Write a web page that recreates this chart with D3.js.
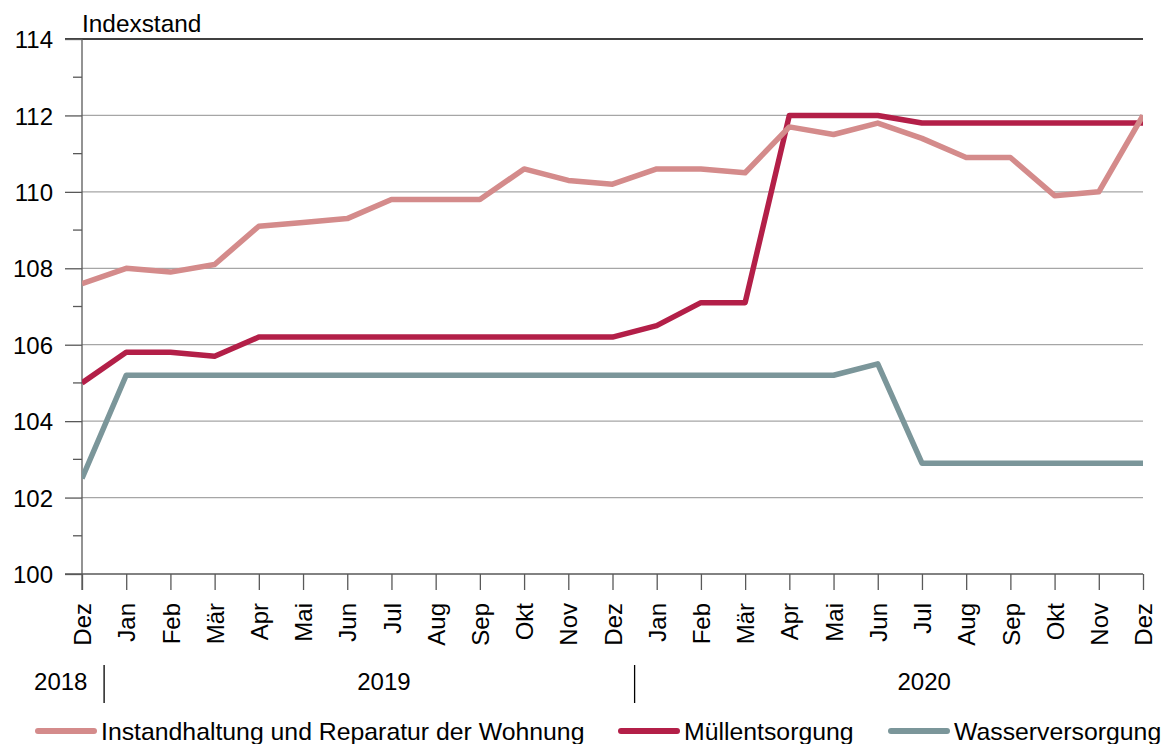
<!DOCTYPE html>
<html>
<head>
<meta charset="utf-8">
<script src="https://cdn.jsdelivr.net/npm/d3@7"></script>
<style>
  body { margin: 0; background: #fff; }
  text { font-family: "Liberation Sans", Arial, sans-serif; fill: #000; }
</style>
</head>
<body>
<div id="chart"></div>
<script>
// month labels, Dez 2018 .. Dez 2020
var months = ["Dez", "Jan", "Feb", "Mär", "Apr", "Mai", "Jun", "Jul", "Aug", "Sep", "Okt", "Nov",
              "Dez", "Jan", "Feb", "Mär", "Apr", "Mai", "Jun", "Jul", "Aug", "Sep", "Okt", "Nov", "Dez"];
var years = ["2018", "2019", "2020"];
var yTicks = [100, 102, 104, 106, 108, 110, 112, 114];
var yMinor = [101, 103, 105, 107, 109, 111, 113];

var seriesNames = ["Instandhaltung und Reparatur der Wohnung", "Müllentsorgung", "Wasserversorgung"];
var instandhaltung = [107.6, 108.0, 107.9, 108.1, 109.1, 109.2, 109.3, 109.8, 109.8, 109.8, 110.6, 110.3,
                      110.2, 110.6, 110.6, 110.5, 111.7, 111.5, 111.8, 111.4, 110.9, 110.9, 109.9, 110.0, 112.0];
var muell = [105.0, 105.8, 105.8, 105.7, 106.2, 106.2, 106.2, 106.2, 106.2, 106.2, 106.2, 106.2,
             106.2, 106.5, 107.1, 107.1, 112.0, 112.0, 112.0, 111.8, 111.8, 111.8, 111.8, 111.8, 111.8];
var wasser = [102.5, 105.2, 105.2, 105.2, 105.2, 105.2, 105.2, 105.2, 105.2, 105.2, 105.2, 105.2,
              105.2, 105.2, 105.2, 105.2, 105.2, 105.2, 105.5, 102.9, 102.9, 102.9, 102.9, 102.9, 102.9];

var colors = ["#d48b8b", "#b31f48", "#7b969a"];

var W = 1167, H = 744;
var m = {left: 82, right: 1143, top: 39, bottom: 574};

var svg = d3.select("#chart").append("svg")
    .attr("width", W)
    .attr("height", H);

var x = d3.scaleLinear().domain([0, months.length - 1]).range([m.left, m.right]);
var y = d3.scaleLinear().domain([100, 114]).range([m.bottom, m.top]);

// gridlines
svg.append("g").selectAll("line")
    .data(yTicks.filter(function(d) { return d > 100 && d < 114; }))
    .enter().append("line")
    .attr("x1", m.left).attr("x2", m.right)
    .attr("y1", function(d) { return y(d); })
    .attr("y2", function(d) { return y(d); })
    .attr("stroke", "#a6a6a6")
    .attr("stroke-width", 1.3);

// top line
svg.append("line")
    .attr("x1", m.left - 17).attr("x2", m.right)
    .attr("y1", y(114)).attr("y2", y(114))
    .attr("stroke", "#000").attr("stroke-width", 1.3);

// y axis
var yAxis = d3.axisLeft(y).tickValues(yTicks).tickSize(17).tickPadding(12).tickFormat(d3.format("d"));
var gy = svg.append("g").attr("transform", "translate(" + m.left + ",0)").call(yAxis);
gy.select(".domain").remove();
gy.selectAll(".tick line").attr("stroke", "#595959").attr("stroke-width", 1.3);
gy.selectAll(".tick text").style("font-size", "24px").attr("dy", "0.36em");
svg.append("g").selectAll("line")
    .data(yMinor)
    .enter().append("line")
    .attr("x1", m.left - 9).attr("x2", m.left)
    .attr("y1", function(d) { return y(d); })
    .attr("y2", function(d) { return y(d); })
    .attr("stroke", "#595959").attr("stroke-width", 1.3);
svg.append("line")
    .attr("x1", m.left).attr("x2", m.left)
    .attr("y1", m.top).attr("y2", m.bottom + 16)
    .attr("stroke", "#595959").attr("stroke-width", 1.3);

// x axis
var xAxis = d3.axisBottom(x).tickValues(d3.range(months.length)).tickSize(16)
    .tickFormat(function(i) { return months[i]; });
var gx = svg.append("g").attr("transform", "translate(0," + m.bottom + ")").call(xAxis);
gx.select(".domain").remove();
gx.selectAll(".tick line").attr("stroke", "#595959").attr("stroke-width", 1.3);
gx.selectAll(".tick text")
    .style("font-size", "24px")
    .attr("transform", "rotate(-90)")
    .attr("text-anchor", "end")
    .attr("x", -29).attr("y", 0).attr("dy", "0.36em");
svg.append("line")
    .attr("x1", m.left - 17).attr("x2", m.right)
    .attr("y1", m.bottom).attr("y2", m.bottom)
    .attr("stroke", "#595959").attr("stroke-width", 1.3);

// "Indexstand"
svg.append("text")
    .attr("x", m.left).attr("y", 32)
    .style("font-size", "24.4px")
    .text("Indexstand");

// year separators and labels
[0.5, 12.5].forEach(function(p) {
    svg.append("line")
        .attr("x1", x(p)).attr("x2", x(p))
        .attr("y1", 665).attr("y2", 703)
        .attr("stroke", "#000").attr("stroke-width", 1.3);
});
var yearPos = [-0.48, 6.83, 19.05];
svg.append("g").selectAll("text")
    .data(years)
    .enter().append("text")
    .attr("x", function(d, i) { return x(yearPos[i]); })
    .attr("y", 690)
    .attr("text-anchor", "middle")
    .style("font-size", "24px")
    .text(function(d) { return d; });

// lines
svg.append("clipPath").attr("id", "plot")
    .append("rect").attr("x", m.left).attr("y", 0).attr("width", m.right - m.left).attr("height", m.bottom);

var line = d3.line()
    .x(function(d, i) { return x(i); })
    .y(function(d) { return y(d); });

var series = [wasser, muell, instandhaltung];
var seriesColors = [colors[2], colors[1], colors[0]];
svg.append("g").attr("clip-path", "url(#plot)")
    .selectAll("path")
    .data(series)
    .enter().append("path")
    .attr("d", line)
    .attr("fill", "none")
    .attr("stroke", function(d, i) { return seriesColors[i]; })
    .attr("stroke-width", 5.5)
    .attr("stroke-linejoin", "round");

// legend
var legendX = [35, 618, 888];
var lg = svg.append("g").selectAll("g")
    .data(seriesNames)
    .enter().append("g")
    .attr("transform", function(d, i) { return "translate(" + legendX[i] + ",731)"; });
lg.append("line")
    .attr("x1", 3).attr("x2", 59)
    .attr("y1", 0).attr("y2", 0)
    .attr("stroke", function(d, i) { return colors[i]; })
    .attr("stroke-width", 6)
    .attr("stroke-linecap", "round");
lg.append("text")
    .attr("x", 66).attr("dy", "0.36em")
    .style("font-size", "24.8px")
    .text(function(d) { return d; });
</script>
</body>
</html>
